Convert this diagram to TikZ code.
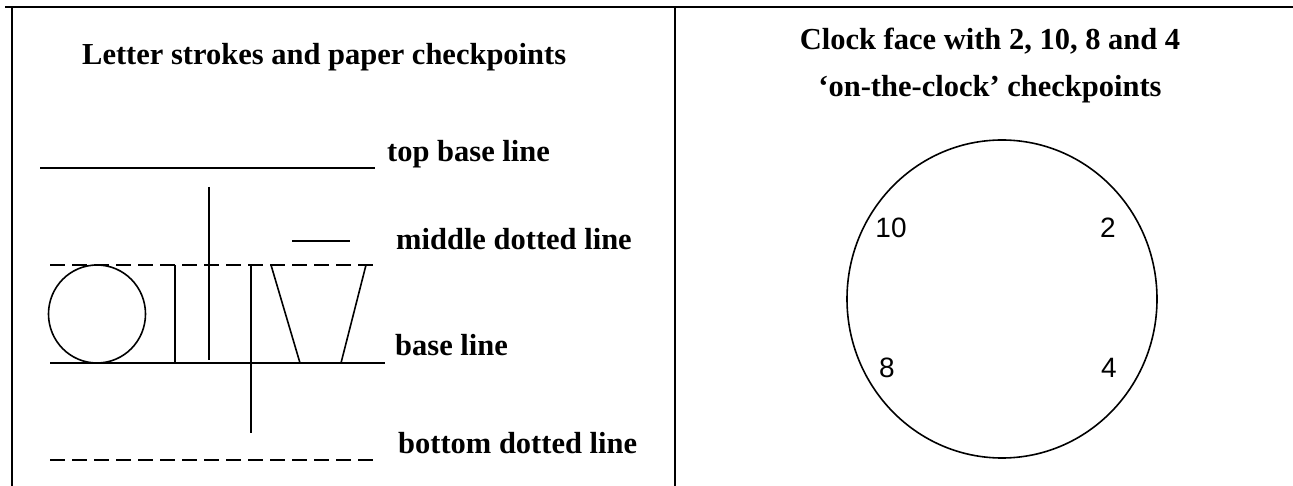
\documentclass[tikz,border=0pt]{standalone}
\usepackage{fontspec}
\setmainfont{Liberation Serif}
\newfontfamily\digitfont{Liberation Sans}
\tikzset{
  lbl/.style={anchor=base west, inner sep=0pt, font=\bfseries\fontsize{30.5}{36}\selectfont},
  ttl/.style={anchor=base, inner sep=0pt, font=\bfseries\fontsize{30.5}{36}\selectfont},
  num/.style={anchor=center, inner sep=0pt, font=\digitfont\fontsize{28}{32}\selectfont},
  stroke/.style={line width=1.6pt},
  dashline/.style={line width=1.3pt, dash pattern=on 15pt off 7pt},
  frame/.style={line width=2.2pt}
}
\begin{document}
\begin{tikzpicture}[x=1pt,y=-1pt]
\useasboundingbox (0,0) rectangle (1293,486);
% frame
\coordinate (tl) at (5,7);
\coordinate (tr) at (1293,7);
\draw[line width=2.8pt] (tl) -- (tr);
\coordinate (lb1) at (12,7);
\coordinate (lb2) at (12,486);
\draw[frame] (lb1) -- (lb2);
\coordinate (dv1) at (675,7);
\coordinate (dv2) at (675,486);
\draw[frame] (dv1) -- (dv2);

% left panel
\node[lbl] (ltitle) at (82,65) {Letter strokes and paper checkpoints};
\coordinate (tb1) at (40,168);
\coordinate (tb2) at (375,168);
\draw[stroke] (tb1) -- (tb2);
\node[lbl] (ttop) at (387,162) {top base line};

\coordinate (md1) at (50,265);
\coordinate (md2) at (379,265);
\draw[dashline] (md1) -- (md2);
\node[lbl] (tmid) at (396,250) {middle dotted line};

\coordinate (bl1) at (50,363);
\coordinate (bl2) at (385,363);
\draw[stroke] (bl1) -- (bl2);
\node[lbl] (tbase) at (395,355) {base line};

\coordinate (bd1) at (50,460);
\coordinate (bd2) at (379,460);
\draw[dashline] (bd1) -- (bd2);
\node[lbl] (tbot) at (398,453) {bottom dotted line};

% letter strokes
\draw[stroke] (97,314) ellipse [x radius=48.5, y radius=49];
\draw[stroke] (175,265) -- (175,363);
\draw[stroke] (209,187) -- (209,360);
\draw[stroke] (292,241) -- (350,241);
\draw[stroke] (251,265) -- (251,433);
\draw[stroke] (271,265) -- (300,363);
\draw[stroke] (366,265) -- (341,363);

% right panel
\node[ttl] (rtitle1) at (990,50) {Clock face with 2, 10, 8 and 4};
\node[ttl] (rtitle2) at (990,97) {‘on-the-clock’ checkpoints};
\draw[stroke] (1002,299) ellipse [x radius=155, y radius=159];
\node[num] (n10) at (891,228) {10};
\node[num] (n2) at (1108,228) {2};
\node[num] (n8) at (887,368) {8};
\node[num] (n4) at (1109,368) {4};
\end{tikzpicture}
\end{document}
